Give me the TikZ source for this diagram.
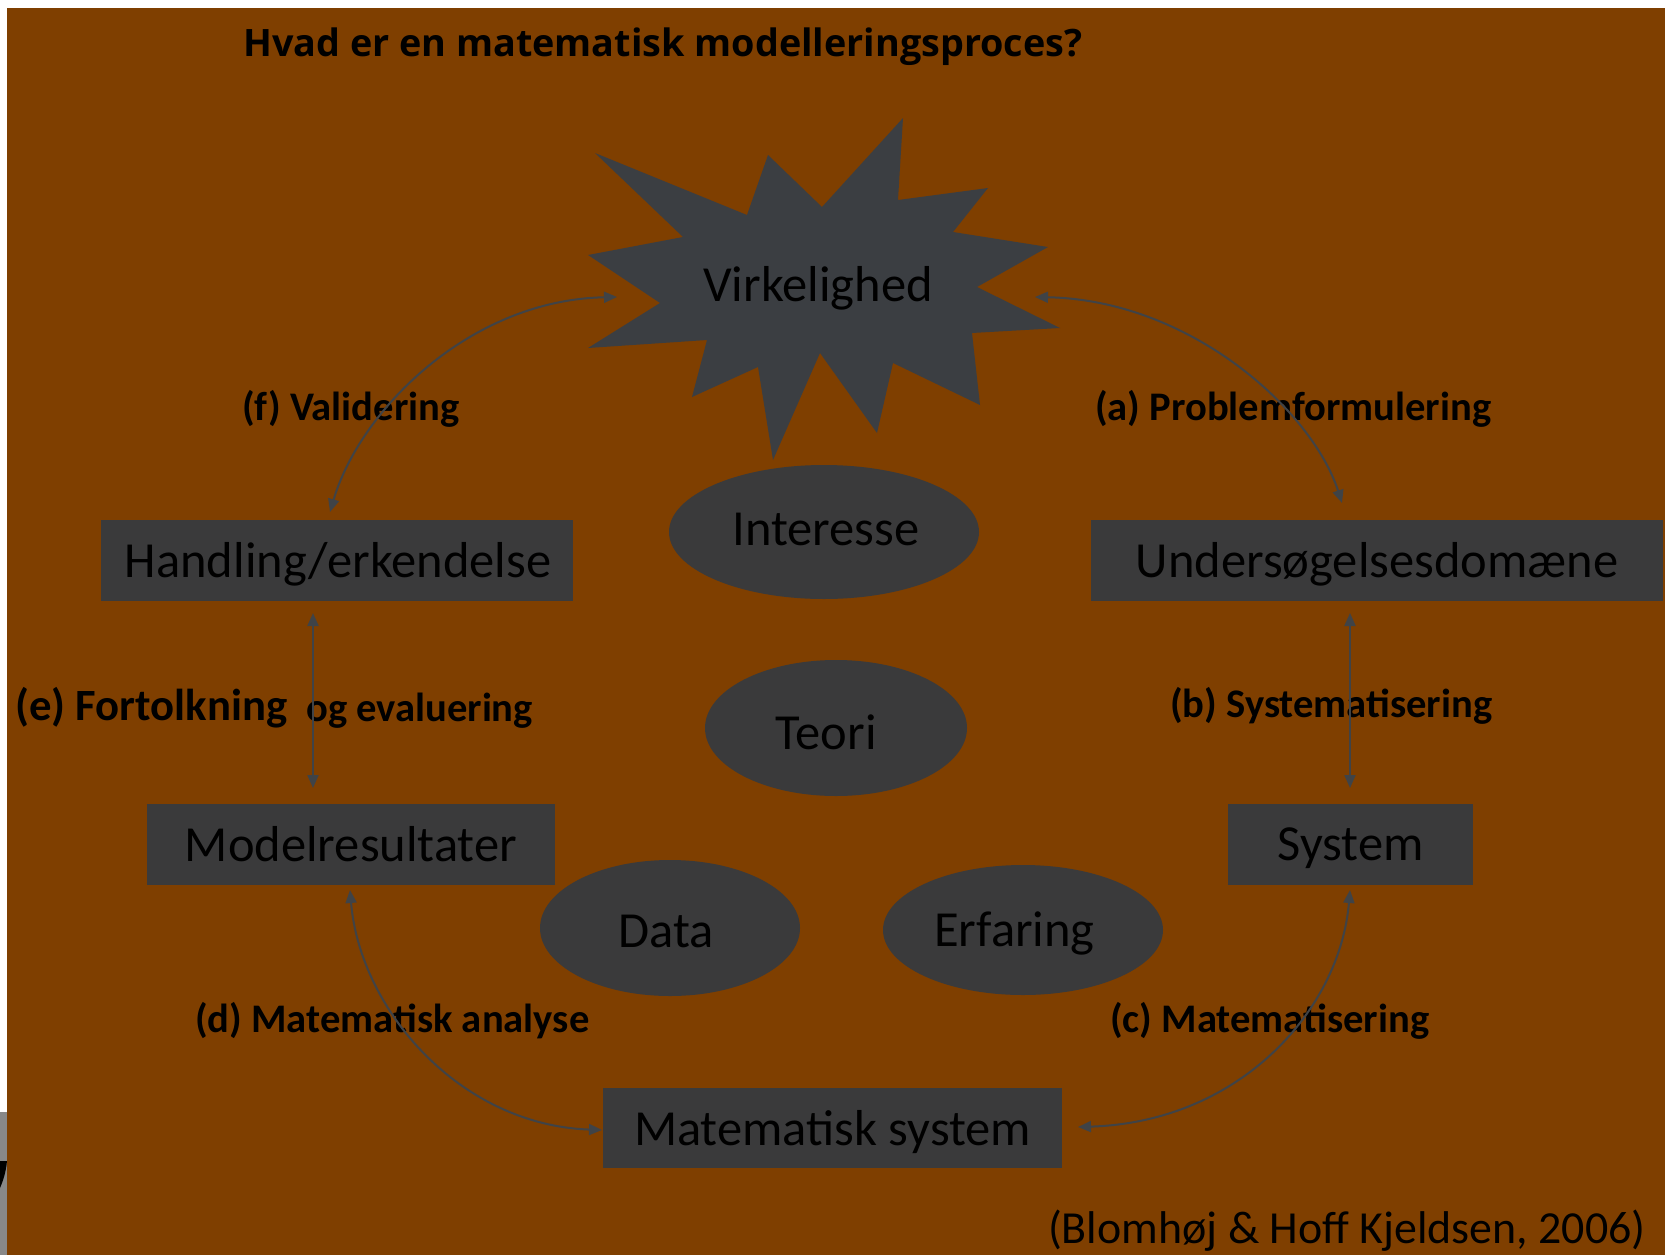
\documentclass[tikz,border=0pt]{standalone}
\usepackage{fontspec}
\setmainfont{Carlito}
\newfontfamily\titlefont{Open Sans}
\usetikzlibrary{shapes.geometric,arrows.meta}
\definecolor{bgbrown}{HTML}{7F3F00}
\definecolor{boxgray}{HTML}{3A3A3B}
\definecolor{burstgray}{HTML}{3B3E42}
\definecolor{arrowgray}{HTML}{3F4347}
\definecolor{stripgray}{HTML}{888888}
% shift node text by (dx right, dy down) without changing the node's box
\newcommand{\mvtext}[3]{\hspace*{#1}\hspace*{#1}\raisebox{-#2}[\height][\depth]{#3}}
\begin{document}
\begin{tikzpicture}[x=1pt,y=1pt,
  box/.style={rectangle, fill=boxgray, draw=none, inner sep=0pt, text=black, font=\fontsize{50.5}{60}\selectfont},
  oval/.style={ellipse, fill=boxgray, draw=none, inner sep=0pt, text=black, font=\fontsize{50.5}{60}\selectfont},
  lbl/.style={anchor=west, inner sep=0pt, text=black, font=\bfseries\fontsize{40.6}{48}\selectfont},
  link/.style={draw=arrowgray, line width=2pt, {Triangle[length=13pt,width=11pt]}-{Triangle[length=13pt,width=11pt]}},
]
\useasboundingbox (0,0) rectangle (1665,-1255);
\fill[white] (0,0) rectangle (1665,-1255);
\fill[bgbrown] (7,-8) rectangle (1665,-1255);
\fill[stripgray] (0,-1112) rectangle (7,-1255);
\fill[black] (0,-1161) -- (7,-1161) .. controls (6,-1172) and (3,-1181) .. (0,-1188) -- cycle;

% starburst
\fill[burstgray] (595,-153) -- (747,-215) -- (768,-155) -- (822,-207) -- (903,-118) -- (898,-200)
  -- (988,-188) -- (953,-232) -- (1048,-247) -- (977,-287) -- (1060,-328) -- (972,-333)
  -- (980,-405) -- (893,-363) -- (877,-433) -- (820,-353) -- (773,-460) -- (758,-367)
  -- (692,-397) -- (707,-340) -- (588,-348) -- (660,-303) -- (588,-255) -- (683,-237) -- cycle;
\node[inner sep=0pt, text=black, font=\fontsize{50.5}{60}\selectfont] (virk) at (818,-288) {Virkelighed};

% ellipses
\node[oval, minimum width=310pt, minimum height=134pt] (inter) at (824,-532) {\mvtext{2pt}{-3pt}{Interesse}};
\node[oval, minimum width=262pt, minimum height=136pt] (teori) at (836,-728) {\mvtext{-10pt}{4pt}{Teori}};
\node[oval, minimum width=260pt, minimum height=136pt] (data) at (670,-928) {\mvtext{-4pt}{3pt}{Data}};
\node[oval, minimum width=280pt, minimum height=130pt] (erf) at (1023,-930) {\mvtext{-8.5pt}{3pt}{Erfaring}};

% boxes
\node[box, minimum width=472pt, minimum height=81pt] (hand) at (337,-560.5) {\mvtext{1pt}{4pt}{Handling/erkendelse}};
\node[box, minimum width=572pt, minimum height=81pt] (unders) at (1377,-560.5) {\mvtext{0pt}{4pt}{Undersøgelsesdomæne}};
\node[box, minimum width=408pt, minimum height=81pt] (model) at (351,-844.5) {Modelresultater};
\node[box, minimum width=245pt, minimum height=81pt] (system) at (1350.5,-844.5) {\mvtext{0pt}{4pt}{System}};
\node[box, minimum width=459pt, minimum height=80pt] (matsys) at (832.5,-1128) {\mvtext{0pt}{4pt}{Matematisk system}};

% title and citation
\node[anchor=west, inner sep=0pt, text=black, font=\titlefont\bfseries\fontsize{37.76}{46}\selectfont] (title) at (243,-47) {Hvad er en matematisk modelleringsproces?};
\node[anchor=east, inner sep=0pt, text=black, font=\fontsize{45.9}{54}\selectfont] (cite) at (1646,-1231) {(Blomhøj \& Hoff Kjeldsen, 2006)};

% labels
\node[lbl] (lf) at (242,-409) {(f) Validering};
\node[lbl] (la) at (1095,-409) {(a) Problemformulering};
\node[lbl, font=\bfseries\fontsize{44.7}{52}\selectfont] (le) at (15,-708) {(e) Fortolkning};
\node[lbl] (le2) at (306,-711) {og evaluering};
\node[lbl] (lb) at (1170,-706) {(b) Systematisering};
\node[lbl] (ld) at (195,-1021) {(d) Matematisk analyse};
\node[lbl] (lc) at (1110,-1021) {(c) Matematisering};

% connector end points
\coordinate (fA) at (330,-512);
\coordinate (fB) at (617,-297);
\coordinate (aA) at (1035,-297);
\coordinate (aB) at (1342,-503);
\coordinate (eA) at (313,-613);
\coordinate (eB) at (313,-788);
\coordinate (bA) at (1350,-613);
\coordinate (bB) at (1350,-788);
\coordinate (dA) at (350,-890);
\coordinate (dB) at (602,-1130);
\coordinate (cA) at (1350,-890);
\coordinate (cB) at (1078,-1127);

\draw[link] (fA) .. controls (360,-410) and (470,-300) .. (fB);
\draw[link] (aA) .. controls (1190,-300) and (1312,-410) .. (aB);
\draw[link] (eA) -- (eB);
\draw[link] (bA) -- (bB);
\draw[link] (dA) .. controls (360,-1010) and (460,-1125) .. (dB);
\draw[link] (cA) .. controls (1340,-1010) and (1240,-1122) .. (cB);
\end{tikzpicture}
\end{document}
